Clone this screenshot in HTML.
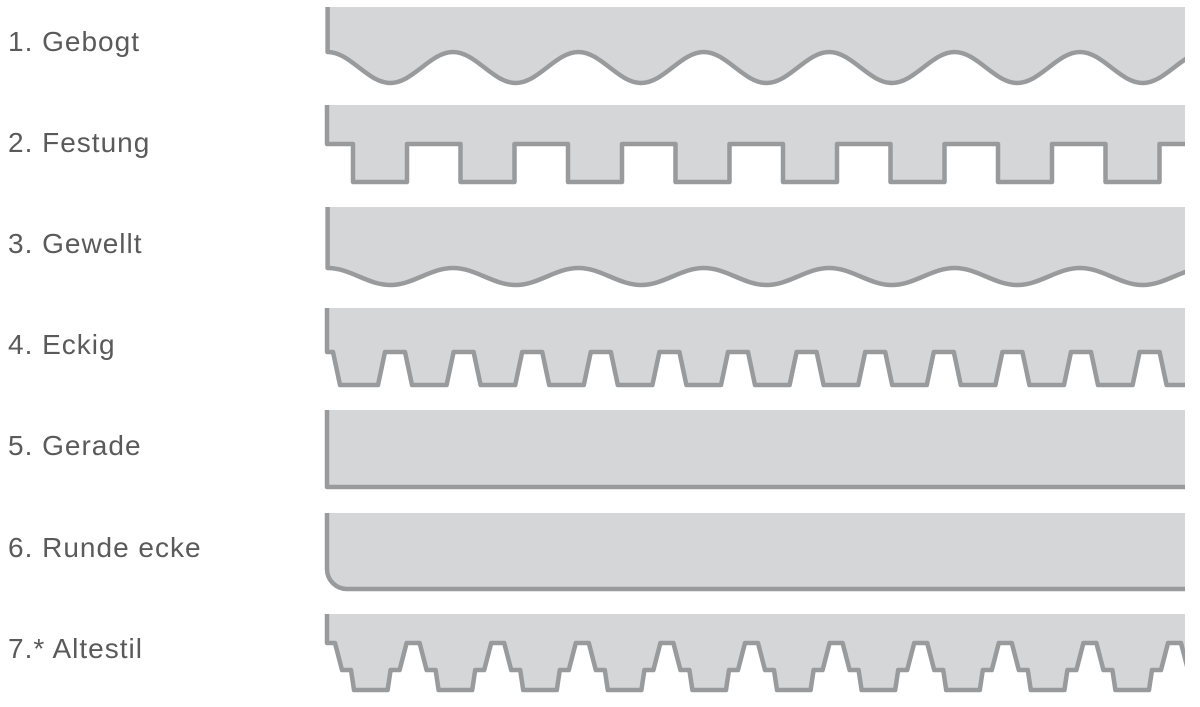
<!DOCTYPE html>
<html><head><meta charset="utf-8"><style>
html,body{margin:0;padding:0;background:#fff;}
svg{display:block;}
text{font-family:"Liberation Sans",sans-serif;font-size:28px;fill:#5a5a5a;letter-spacing:1px;}
</style></head><body>
<svg width="1200" height="707" viewBox="0 0 1200 707" xmlns="http://www.w3.org/2000/svg">
<defs><clipPath id="c"><rect x="0" y="0" width="1185" height="707"/></clipPath></defs>
<text x="8" y="51">1. Gebogt</text>
<text x="8" y="152">2.  Festung</text>
<text x="8" y="253">3.  Gewellt</text>
<text x="8" y="354">4. Eckig</text>
<text x="8" y="455">5. Gerade</text>
<text x="8" y="557">6. Runde ecke</text>
<text x="8" y="658">7.* Altestil</text>
<g clip-path="url(#c)" stroke-linejoin="round">
<path fill="#d5d6d8" d="M327.6,7 V52 c22.6,0 40.1,31 62.7,31 s40.1,-31 62.7,-31 c22.6,0 40.1,31 62.7,31 s40.1,-31 62.7,-31 c22.6,0 40.1,31 62.7,31 s40.1,-31 62.7,-31 c22.6,0 40.1,31 62.7,31 s40.1,-31 62.7,-31 c22.6,0 40.1,31 62.7,31 s40.1,-31 62.7,-31 c22.6,0 40.1,31 62.7,31 s40.1,-31 62.7,-31 c22.6,0 40.1,31 62.7,31 s40.1,-31 62.7,-31 V7 Z"/>
<path fill="none" stroke="#999a9c" stroke-width="4.5" d="M327.6,7 V52 c22.6,0 40.1,31 62.7,31 s40.1,-31 62.7,-31 c22.6,0 40.1,31 62.7,31 s40.1,-31 62.7,-31 c22.6,0 40.1,31 62.7,31 s40.1,-31 62.7,-31 c22.6,0 40.1,31 62.7,31 s40.1,-31 62.7,-31 c22.6,0 40.1,31 62.7,31 s40.1,-31 62.7,-31 c22.6,0 40.1,31 62.7,31 s40.1,-31 62.7,-31 c22.6,0 40.1,31 62.7,31 s40.1,-31 62.7,-31"/>
<path fill="#d5d6d8" d="M327,105 V144 H353 v38 h54 v-38 h53.5 v38 h54 v-38 h53.5 v38 h54 v-38 h53.5 v38 h54 v-38 h53.5 v38 h54 v-38 h53.5 v38 h54 v-38 h53.5 v38 h54 v-38 h53.5 v38 h54 v-38 h53.5 V105 Z"/>
<path fill="none" stroke="#999a9c" stroke-width="4.5" d="M327,105 V144 H353 v38 h54 v-38 h53.5 v38 h54 v-38 h53.5 v38 h54 v-38 h53.5 v38 h54 v-38 h53.5 v38 h54 v-38 h53.5 v38 h54 v-38 h53.5 v38 h54 v-38 h53.5 v38 h54 v-38 h53.5"/>
<path fill="#d5d6d8" d="M327.6,207 V268 c22.6,0 40.1,17 62.7,17 s40.1,-17 62.7,-17 c22.6,0 40.1,17 62.7,17 s40.1,-17 62.7,-17 c22.6,0 40.1,17 62.7,17 s40.1,-17 62.7,-17 c22.6,0 40.1,17 62.7,17 s40.1,-17 62.7,-17 c22.6,0 40.1,17 62.7,17 s40.1,-17 62.7,-17 c22.6,0 40.1,17 62.7,17 s40.1,-17 62.7,-17 c22.6,0 40.1,17 62.7,17 s40.1,-17 62.7,-17 V207 Z"/>
<path fill="none" stroke="#999a9c" stroke-width="4.5" d="M327.6,207 V268 c22.6,0 40.1,17 62.7,17 s40.1,-17 62.7,-17 c22.6,0 40.1,17 62.7,17 s40.1,-17 62.7,-17 c22.6,0 40.1,17 62.7,17 s40.1,-17 62.7,-17 c22.6,0 40.1,17 62.7,17 s40.1,-17 62.7,-17 c22.6,0 40.1,17 62.7,17 s40.1,-17 62.7,-17 c22.6,0 40.1,17 62.7,17 s40.1,-17 62.7,-17 c22.6,0 40.1,17 62.7,17 s40.1,-17 62.7,-17"/>
<path fill="#d5d6d8" d="M327,308 V352 H333 l7,33 h38 l7,-33 h20 l7,33 h34.6 l7,-33 h20 l7,33 h34.6 l7,-33 h20 l7,33 h34.6 l7,-33 h20 l7,33 h34.6 l7,-33 h20 l7,33 h34.6 l7,-33 h20 l7,33 h34.6 l7,-33 h20 l7,33 h34.6 l7,-33 h20 l7,33 h34.6 l7,-33 h20 l7,33 h34.6 l7,-33 h20 l7,33 h34.6 l7,-33 h20 l7,33 h34.6 l7,-33 h20 l7,33 h34.6 l7,-33 h20 V308 Z"/>
<path fill="none" stroke="#999a9c" stroke-width="4.5" d="M327,308 V352 H333 l7,33 h38 l7,-33 h20 l7,33 h34.6 l7,-33 h20 l7,33 h34.6 l7,-33 h20 l7,33 h34.6 l7,-33 h20 l7,33 h34.6 l7,-33 h20 l7,33 h34.6 l7,-33 h20 l7,33 h34.6 l7,-33 h20 l7,33 h34.6 l7,-33 h20 l7,33 h34.6 l7,-33 h20 l7,33 h34.6 l7,-33 h20 l7,33 h34.6 l7,-33 h20 l7,33 h34.6 l7,-33 h20 l7,33 h34.6 l7,-33 h20"/>
<rect x="327" y="410" width="870" height="77" fill="#d5d6d8"/>
<path fill="none" stroke="#999a9c" stroke-width="4.5" d="M327,410 V487 H1200"/>
<path fill="#d5d6d8" d="M327,513 V569 a20,20 0 0 0 20,20 H1200 V513 Z"/>
<path fill="none" stroke="#999a9c" stroke-width="4.5" d="M327,513 V569 a20,20 0 0 0 20,20 H1200"/>
<path fill="#d5d6d8" d="M327,614 V643 H335 l7,27 h9 l3,20 h33.6 l3,-20 h9 l7,-27 h13 l7,27 h9 l3,20 h33.6 l3,-20 h9 l7,-27 h13 l7,27 h9 l3,20 h33.6 l3,-20 h9 l7,-27 h13 l7,27 h9 l3,20 h33.6 l3,-20 h9 l7,-27 h13 l7,27 h9 l3,20 h33.6 l3,-20 h9 l7,-27 h13 l7,27 h9 l3,20 h33.6 l3,-20 h9 l7,-27 h13 l7,27 h9 l3,20 h33.6 l3,-20 h9 l7,-27 h13 l7,27 h9 l3,20 h33.6 l3,-20 h9 l7,-27 h13 l7,27 h9 l3,20 h33.6 l3,-20 h9 l7,-27 h13 l7,27 h9 l3,20 h33.6 l3,-20 h9 l7,-27 h13 l7,27 h9 l3,20 h33.6 l3,-20 h9 l7,-27 h13 l7,27 h9 l3,20 h33.6 l3,-20 h9 l7,-27 h13 V614 Z"/>
<path fill="none" stroke="#999a9c" stroke-width="4.5" d="M327,614 V643 H335 l7,27 h9 l3,20 h33.6 l3,-20 h9 l7,-27 h13 l7,27 h9 l3,20 h33.6 l3,-20 h9 l7,-27 h13 l7,27 h9 l3,20 h33.6 l3,-20 h9 l7,-27 h13 l7,27 h9 l3,20 h33.6 l3,-20 h9 l7,-27 h13 l7,27 h9 l3,20 h33.6 l3,-20 h9 l7,-27 h13 l7,27 h9 l3,20 h33.6 l3,-20 h9 l7,-27 h13 l7,27 h9 l3,20 h33.6 l3,-20 h9 l7,-27 h13 l7,27 h9 l3,20 h33.6 l3,-20 h9 l7,-27 h13 l7,27 h9 l3,20 h33.6 l3,-20 h9 l7,-27 h13 l7,27 h9 l3,20 h33.6 l3,-20 h9 l7,-27 h13 l7,27 h9 l3,20 h33.6 l3,-20 h9 l7,-27 h13"/>
</g>
</svg>
</body></html>
